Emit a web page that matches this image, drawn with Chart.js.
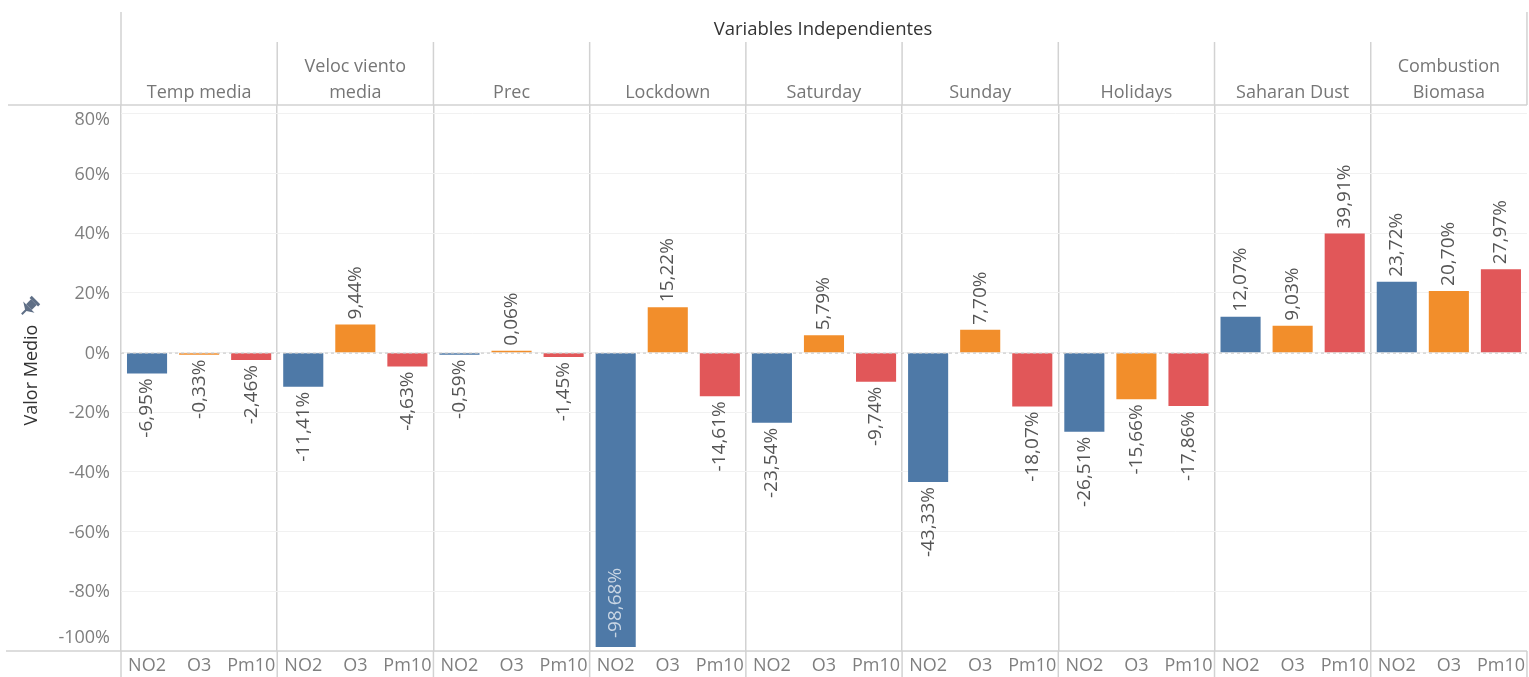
<!DOCTYPE html>
<html>
<head>
<meta charset="utf-8">
<style>
	body { margin: 0; background: #fff; }
	canvas { display: block; }
</style>
</head>
<body>
<canvas id="chart" width="1529" height="677"></canvas>
<script src="https://cdn.jsdelivr.net/npm/chart.js@4"></script>
<script>
const panels = [
	['Temp media'],
	['Veloc viento', 'media'],
	['Prec'],
	['Lockdown'],
	['Saturday'],
	['Sunday'],
	['Holidays'],
	['Saharan Dust'],
	['Combustion', 'Biomasa'],
];
const pollutants = ['NO2', 'O3', 'Pm10'];
const no2Values = [-6.95, -11.41, -0.59, -98.68, -23.54, -43.33, -26.51, 12.07, 23.72];
const o3Values = [-0.33, 9.44, 0.06, 15.22, 5.79, 7.70, -15.66, 9.03, 20.70];
const pm10Values = [-2.46, -4.63, -1.45, -14.61, -9.74, -18.07, -17.86, 39.91, 27.97];
const yTicks = [80, 60, 40, 20, 0, -20, -40, -60, -80, -100];

const seriesColors = ['#4e79a7', '#f28e2b', '#e15759'];
const fontName = '"Open Sans", sans-serif';
const lineColor = '#d2d2d2';

// flatten panels into one long category axis
const labels = [];
const values = [];
const colors = [];
panels.forEach((p, i) => {
	[no2Values, o3Values, pm10Values].forEach((list, s) => {
		labels.push(pollutants[s]);
		values.push(list[i]);
		colors.push(seriesColors[s]);
	});
});

function formatPct(v) {
	return v.toFixed(2).replace('.', ',') + '%';
}

// everything Tableau draws outside of the bars: headers, rules, y labels, bar labels
const tableauParts = {
	id: 'tableauParts',
	afterDatasetsDraw(chart) {
		const { ctx, chartArea, scales } = chart;
		const y = scales.y;
		const panelW = (chartArea.right - chartArea.left) / panels.length;
		ctx.save();

		// zero line
		ctx.strokeStyle = '#c4c4c4';
		ctx.lineWidth = 1;
		ctx.setLineDash([3, 3]);
		ctx.beginPath();
		ctx.moveTo(chartArea.left, y.getPixelForValue(0) + 0.5);
		ctx.lineTo(chartArea.right, y.getPixelForValue(0) + 0.5);
		ctx.stroke();
		ctx.setLineDash([]);

		// horizontal rules
		ctx.strokeStyle = lineColor;
		ctx.lineWidth = 1.5;
		ctx.beginPath();
		ctx.moveTo(8, chartArea.top);
		ctx.lineTo(chartArea.right, chartArea.top);
		ctx.moveTo(6, chartArea.bottom);
		ctx.lineTo(chartArea.right, chartArea.bottom);
		// header separators, and their stubs through the bottom labels
		for (let i = 0; i <= panels.length; i++) {
			const px = chartArea.left + panelW * i;
			const top = (i === 0 || i === panels.length) ? 12 : 42;
			ctx.moveTo(px, top);
			ctx.lineTo(px, chartArea.top);
			ctx.moveTo(px, chartArea.bottom);
			ctx.lineTo(px, 677);
		}
		ctx.stroke();

		// panel headers
		ctx.textAlign = 'center';
		ctx.textBaseline = 'middle';
		ctx.font = '18px ' + fontName;
		ctx.fillStyle = '#767676';
		panels.forEach((lines, i) => {
			const cx = chartArea.left + panelW * (i + 0.5);
			lines.forEach((line, l) => {
				ctx.fillText(line, cx, 93 - (lines.length - 1 - l) * 26);
			});
		});
		ctx.fillStyle = '#333';
		ctx.font = '18.5px ' + fontName;
		ctx.fillText('Variables Independientes', (chartArea.left + chartArea.right) / 2 - 1, 30);

		// y axis labels, the two outer ones are pushed inside like in the original
		ctx.textAlign = 'right';
		ctx.font = '18px ' + fontName;
		ctx.fillStyle = '#7f7f7f';
		yTicks.forEach(t => {
			let py = y.getPixelForValue(t) + 1;
			if (t === 80) py += 5;
			if (t === -100) py -= 14;
			ctx.fillText(t + '%', 110, py);
		});

		// y axis title
		ctx.save();
		ctx.translate(32, 375);
		ctx.rotate(-Math.PI / 2);
		ctx.textAlign = 'center';
		ctx.font = '18px ' + fontName;
		ctx.fillStyle = '#333';
		ctx.fillText('Valor Medio', 0, 0);
		ctx.restore();

		// bar labels
		const bars = chart.getDatasetMeta(0).data;
		ctx.font = '19px ' + fontName;
		bars.forEach((bar, i) => {
			const v = values[i];
			const inside = v < -90;
			ctx.save();
			ctx.translate(bar.x, bar.y);
			ctx.rotate(-Math.PI / 2);
			ctx.textBaseline = 'middle';
			if (inside) {
				ctx.textAlign = 'left';
				ctx.fillStyle = '#c9d6e4';
				ctx.fillText(formatPct(v), 9, 0);
			} else if (v < 0) {
				ctx.textAlign = 'right';
				ctx.fillStyle = '#555';
				ctx.fillText(formatPct(v), -5, 0);
			} else {
				ctx.textAlign = 'left';
				ctx.fillStyle = '#555';
				ctx.fillText(formatPct(v), 5, 0);
			}
			ctx.restore();
		});

		// pin icon
		ctx.fillStyle = '#5f6f86';
		ctx.translate(31, 305);
		ctx.rotate(Math.PI / 4);
		ctx.fillRect(-4, -4, 8, 7);
		ctx.fillRect(-6, -7, 12, 3);
		ctx.beginPath();
		ctx.moveTo(-8, 3);
		ctx.lineTo(8, 3);
		ctx.lineTo(0, 8);
		ctx.closePath();
		ctx.fill();
		ctx.fillRect(-1, 6, 2, 7);
		ctx.restore();
	},
};

const data = {
	labels: labels,
	datasets: [
		{
			data: values,
			backgroundColor: colors,
			barPercentage: 1,
			categoryPercentage: 0.77,
			minBarLength: 2,
		},
	],
};

const config = {
	type: 'bar',
	data: data,
	options: {
		responsive: false,
		animation: false,
		layout: { padding: { left: 121, right: 2, top: 105, bottom: 0 } },
		plugins: { legend: { display: false }, tooltip: { enabled: false } },
		scales: {
			x: {
				afterFit: axis => {
					axis.height = 26;
				},
				grid: {
					offset: true,
					drawTicks: false,
					lineWidth: 1.5,
					// panel separators every three categories
					color: ctx => (ctx.index % 3 === 0 ? lineColor : 'rgba(0,0,0,0)'),
				},
				border: { display: false },
				ticks: {
					autoSkip: false,
					maxRotation: 0,
					minRotation: 0,
					padding: 4,
					font: { family: fontName, size: 18 },
					color: '#7f7f7f',
				},
			},
			y: {
				min: -100,
				max: 83,
				afterBuildTicks: axis => {
					axis.ticks = yTicks.map(value => ({ value }));
				},
				grid: { color: '#f1f1f1', drawTicks: false },
				border: { display: false },
				ticks: { display: false },
			},
		},
	},
	plugins: [tableauParts],
};

const chart = new Chart(document.getElementById('chart'), config);
</script>
</body>
</html>
